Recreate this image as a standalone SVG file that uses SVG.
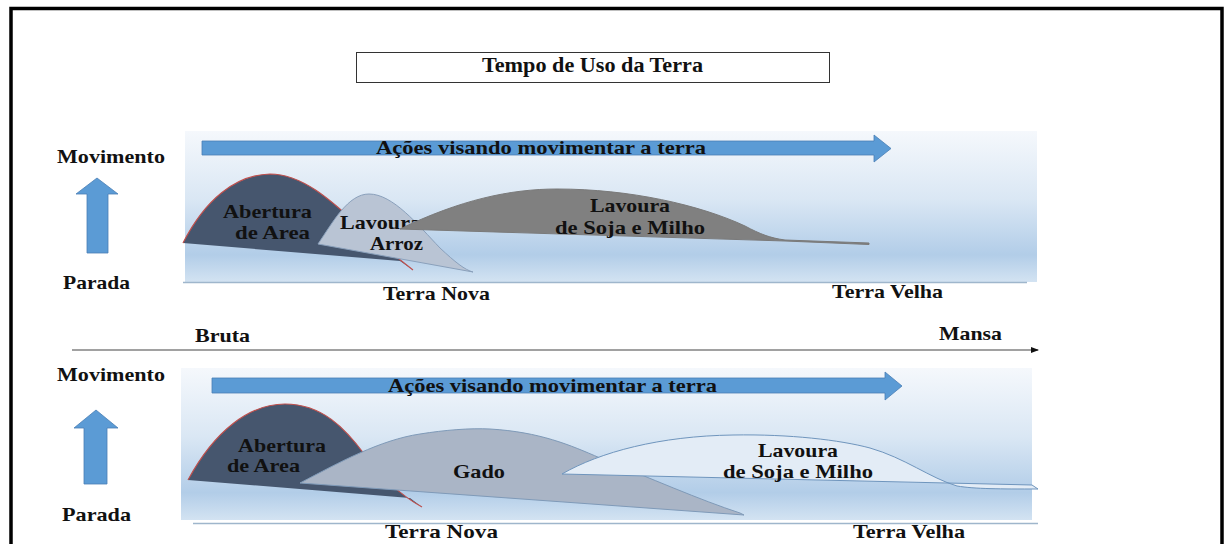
<svg xmlns="http://www.w3.org/2000/svg" width="1226" height="544" viewBox="0 0 1226 544">
<style>
  .t{font-family:"Liberation Serif","Times New Roman",serif;font-weight:bold;font-size:19px;fill:#111;}
  .title{font-size:20px;}
  .blue{fill:#5b9bd5;stroke:#4a7fb5;stroke-width:0.8;}
  .panel{stroke:none;}
  .base{stroke:#9fb6cc;stroke-width:1.5;}
  .red{fill:none;stroke:#c0504d;stroke-width:1.2;}
</style>
<defs>
  <linearGradient id="bg" x1="0" y1="0" x2="0" y2="1">
    <stop offset="0" stop-color="#f5f8fc"/>
    <stop offset="0.45" stop-color="#dae7f4"/>
    <stop offset="0.82" stop-color="#b2cde8"/>
    <stop offset="1" stop-color="#d3e3f2"/>
  </linearGradient>
  <marker id="ah" markerWidth="8" markerHeight="6" refX="7" refY="3" orient="auto" markerUnits="userSpaceOnUse">
    <path d="M0,0 L8,3 L0,6 Z" fill="#111"/>
  </marker>
</defs>
<rect width="1226" height="544" fill="#fff"/>
<path d="M11,544 V8.5 H1222 V544" fill="none" stroke="#000" stroke-width="3.5"/>

<g id="title">
  <rect x="356.5" y="52.5" width="473" height="30" fill="#fff" stroke="#333" stroke-width="1"/>
  <text class="t title" x="482" y="72" textLength="221" lengthAdjust="spacingAndGlyphs">Tempo de Uso da Terra</text>
</g>

<!-- TOP PANEL -->
<g id="panel-top">
  <rect class="panel" x="185" y="131" width="852" height="151" fill="url(#bg)"/>
  <line class="base" x1="183" y1="282.5" x2="1027" y2="282.5"/>
</g>
<g id="acoes-top">
  <path class="blue" d="M202,141 H874 V135 L891,148.5 L874,162 V155 H202 Z"/>
  <text class="t" x="376" y="154" textLength="330" lengthAdjust="spacingAndGlyphs">Ações visando movimentar a terra</text>
</g>
<g id="movimento-top">
  <text class="t" x="57" y="163" textLength="108" lengthAdjust="spacingAndGlyphs">Movimento</text>
  <path class="blue" d="M87,253 V194 H76 L97,178 L118,194 H108 V253 Z" stroke="none"/>
  <text class="t" x="63" y="289" textLength="67" lengthAdjust="spacingAndGlyphs">Parada</text>
</g>
<g id="abertura-top">
  <path d="M183,243 C205,200 235,175 270,174 C310,174 345,215 375,240 L413,270 L400,261 Z" fill="#46566e"/>
  <path class="red" d="M183,243 C205,200 235,175 270,174 C310,174 345,215 375,240 L413,270"/>
  <text class="t" x="223" y="218" textLength="89" lengthAdjust="spacingAndGlyphs">Abertura</text>
  <text class="t" x="235" y="239" textLength="75" lengthAdjust="spacingAndGlyphs">de Area</text>
</g>
<g id="arroz-top">
  <path d="M318,244 C333,222 348,194 369,194 C393,194 418,225 440,248 C455,262 465,270 473,272 Z" fill="#b9c4d4" stroke="#8aa0bb" stroke-width="1"/>
  <text class="t" x="340" y="229" textLength="81" lengthAdjust="spacingAndGlyphs">Lavoura</text>
  <text class="t" x="370" y="250" textLength="53" lengthAdjust="spacingAndGlyphs">Arroz</text>
</g>
<g id="soja-top">
  <path d="M400,229 C460,200 510,189 557,189 C630,189 700,205 745,226 C760,234 770,238 785,240 L869,243 L869,244.5 L785,241 Z" fill="#808080" stroke="#7a7a7a" stroke-width="1"/>
  <text class="t" x="590" y="212" textLength="80" lengthAdjust="spacingAndGlyphs">Lavoura</text>
  <text class="t" x="555" y="234" textLength="150" lengthAdjust="spacingAndGlyphs">de Soja e Milho</text>
</g>
<g id="terra-top">
  <text class="t" x="383" y="300" textLength="107" lengthAdjust="spacingAndGlyphs">Terra Nova</text>
  <text class="t" x="832" y="298" textLength="111" lengthAdjust="spacingAndGlyphs">Terra Velha</text>
</g>

<!-- AXIS -->
<g id="connectors">
  <line x1="72" y1="350" x2="1038" y2="350" stroke="#444" stroke-width="1.2" marker-end="url(#ah)"/>
</g>
<g id="axis-labels">
  <text class="t" x="195" y="342" textLength="55" lengthAdjust="spacingAndGlyphs">Bruta</text>
  <text class="t" x="939" y="340" textLength="63" lengthAdjust="spacingAndGlyphs">Mansa</text>
</g>

<!-- BOTTOM PANEL -->
<g id="panel-bottom">
  <rect class="panel" x="181" y="368" width="851" height="152" fill="url(#bg)"/>
  <line class="base" x1="193" y1="523.5" x2="1038" y2="523.5"/>
</g>
<g id="acoes-bottom">
  <path class="blue" d="M212,378 H885 V372 L902,386 L885,400 V393 H212 Z"/>
  <text class="t" x="388" y="392" textLength="329" lengthAdjust="spacingAndGlyphs">Ações visando movimentar a terra</text>
</g>
<g id="movimento-bottom">
  <text class="t" x="57" y="381" textLength="108" lengthAdjust="spacingAndGlyphs">Movimento</text>
  <path class="blue" d="M84,484 V428 H74 L96,410 L118,428 H107 V484 Z" stroke="none"/>
  <text class="t" x="62" y="521" textLength="69" lengthAdjust="spacingAndGlyphs">Parada</text>
</g>
<g id="abertura-bottom">
  <path d="M188,480 C215,430 250,404 285,404 C322,404 345,428 365,455 C380,475 400,495 422,507 L410,498 Z" fill="#46566e"/>
  <path class="red" d="M188,480 C215,430 250,404 285,404 C322,404 345,428 365,455 C380,475 400,495 422,507"/>
  <text class="t" x="238" y="452" textLength="88" lengthAdjust="spacingAndGlyphs">Abertura</text>
  <text class="t" x="227" y="472" textLength="73" lengthAdjust="spacingAndGlyphs">de Area</text>
</g>
<g id="gado">
  <path d="M300,483 C340,462 380,440 420,434 C445,430 470,428 490,429 C540,432 570,445 600,458 C650,478 700,500 740,513 L744,515 Z" fill="#aab5c6" stroke="#7f9ab8" stroke-width="1"/>
  <text class="t" x="453" y="478" textLength="52" lengthAdjust="spacingAndGlyphs">Gado</text>
</g>
<g id="soja-bottom">
  <path d="M562,474 C600,452 660,436 733,435 C790,434 840,440 870,448 C905,458 930,478 957,486 C975,489 1000,489 1038,489 L1032,485 Z" fill="#e3ecf6" stroke="#6f95bd" stroke-width="1"/>
  <text class="t" x="758" y="457" textLength="80" lengthAdjust="spacingAndGlyphs">Lavoura</text>
  <text class="t" x="723" y="478" textLength="150" lengthAdjust="spacingAndGlyphs">de Soja e Milho</text>
</g>
<g id="terra-bottom">
  <text class="t" x="385" y="538" textLength="113" lengthAdjust="spacingAndGlyphs">Terra Nova</text>
  <text class="t" x="853" y="538" textLength="112" lengthAdjust="spacingAndGlyphs">Terra Velha</text>
</g>
</svg>
